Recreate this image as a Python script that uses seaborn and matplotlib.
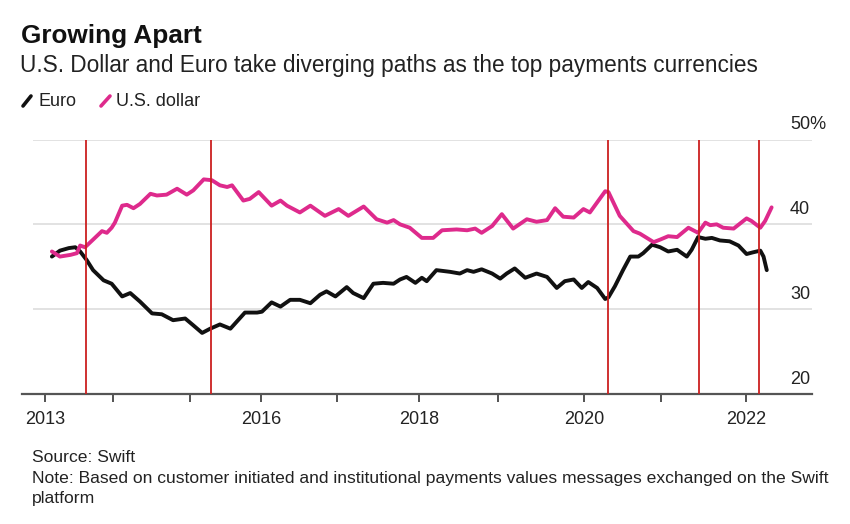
import pandas as pd
import seaborn as sns
import matplotlib.pyplot as plt
from matplotlib.lines import Line2D

# Share of payments by value (%)
euro_years = [2013.41, 2013.51, 2013.62, 2013.70, 2013.76, 2013.84, 2013.92, 2014.05, 2014.15,
              2014.28, 2014.38, 2014.50, 2014.65, 2014.77, 2014.91, 2015.06, 2015.16, 2015.27,
              2015.37, 2015.49, 2015.62, 2015.80, 2015.95, 2016.01, 2016.13, 2016.24, 2016.36,
              2016.48, 2016.61, 2016.73, 2016.81, 2016.92, 2017.06, 2017.14, 2017.27, 2017.39,
              2017.51, 2017.64, 2017.72, 2017.80, 2017.91, 2017.99, 2018.05, 2018.17, 2018.34,
              2018.46, 2018.55, 2018.63, 2018.73, 2018.86, 2018.96, 2019.04, 2019.14, 2019.27,
              2019.41, 2019.54, 2019.66, 2019.76, 2019.87, 2019.97, 2020.05, 2020.16, 2020.26,
              2020.30, 2020.38, 2020.48, 2020.57, 2020.67, 2020.73, 2020.84, 2020.94, 2021.04,
              2021.15, 2021.27, 2021.33, 2021.41, 2021.50, 2021.58, 2021.68, 2021.80, 2021.91,
              2022.01, 2022.09, 2022.18, 2022.22, 2022.26]
euro_share = [36.2, 36.9, 37.2, 37.3, 36.8, 35.8, 34.6, 33.4, 33.0,
              31.5, 31.9, 30.9, 29.5, 29.4, 28.7, 28.9, 28.1, 27.2,
              27.7, 28.2, 27.7, 29.6, 29.6, 29.7, 30.8, 30.3, 31.1,
              31.1, 30.7, 31.7, 32.1, 31.5, 32.6, 31.9, 31.3, 33.0,
              33.1, 33.0, 33.5, 33.8, 33.1, 33.7, 33.3, 34.6, 34.4,
              34.2, 34.6, 34.4, 34.7, 34.2, 33.6, 34.2, 34.8, 33.7,
              34.2, 33.8, 32.5, 33.3, 33.5, 32.5, 33.2, 32.5, 31.2,
              31.4, 32.7, 34.6, 36.2, 36.2, 36.6, 37.6, 37.3, 36.8,
              37.0, 36.2, 37.0, 38.5, 38.3, 38.4, 38.1, 38.0, 37.5,
              36.5, 36.7, 36.9, 36.2, 34.6]

usd_years = [2013.41, 2013.51, 2013.64, 2013.72, 2013.76, 2013.82, 2013.92, 2014.03, 2014.09,
             2014.15, 2014.19, 2014.28, 2014.34, 2014.42, 2014.50, 2014.63, 2014.71, 2014.83,
             2014.96, 2015.08, 2015.16, 2015.29, 2015.39, 2015.49, 2015.58, 2015.64, 2015.78,
             2015.86, 2015.97, 2016.13, 2016.24, 2016.32, 2016.48, 2016.61, 2016.79, 2016.96,
             2017.08, 2017.27, 2017.43, 2017.56, 2017.64, 2017.72, 2017.84, 2017.99, 2018.13,
             2018.24, 2018.42, 2018.55, 2018.65, 2018.73, 2018.86, 2018.98, 2019.12, 2019.29,
             2019.41, 2019.54, 2019.64, 2019.74, 2019.87, 2019.99, 2020.07, 2020.26, 2020.30,
             2020.36, 2020.44, 2020.61, 2020.69, 2020.86, 2020.94, 2021.04, 2021.15, 2021.29,
             2021.41, 2021.50, 2021.56, 2021.64, 2021.72, 2021.85, 2022.01, 2022.07, 2022.18,
             2022.24, 2022.32]
usd_share = [36.8, 36.2, 36.4, 36.6, 37.5, 37.3, 38.2, 39.2, 39.0,
             39.6, 40.2, 42.2, 42.3, 41.9, 42.4, 43.6, 43.4, 43.5,
             44.2, 43.5, 44.0, 45.3, 45.2, 44.6, 44.4, 44.6, 42.8,
             43.0, 43.8, 42.2, 42.8, 42.2, 41.4, 42.2, 41.0, 41.8,
             41.0, 42.1, 40.6, 40.2, 40.5, 40.0, 39.6, 38.4, 38.4,
             39.3, 39.4, 39.3, 39.5, 39.0, 39.8, 41.2, 39.5, 40.6,
             40.3, 40.5, 41.9, 40.9, 40.8, 41.8, 41.4, 43.9, 43.8,
             42.6, 41.0, 39.2, 38.9, 37.9, 38.2, 38.6, 38.5, 39.6,
             39.0, 40.2, 39.9, 40.0, 39.6, 39.5, 40.7, 40.4, 39.6,
             40.4, 42.0]

event_years = [2013.83, 2015.38, 2020.29, 2021.42, 2022.16]

tick_years = [2013.33, 2014.17, 2015.12, 2016.0, 2016.94, 2017.96, 2018.93, 2020.0, 2020.95, 2022.0]
tick_labels = ["2013", "", "", "2016", "", "2018", "", "2020", "", "2022"]
grid_values = [30, 40, 50]
y_values = [20, 30, 40, 50]
y_labels = ["20", "30", "40", "50%"]

df = pd.concat([
    pd.DataFrame({"year": euro_years, "share": euro_share, "currency": "Euro"}),
    pd.DataFrame({"year": usd_years, "share": usd_share, "currency": "U.S. dollar"}),
])

sns.set_style("white")
plt.rcParams["font.family"] = ["Liberation Sans", "DejaVu Sans"]

W, H = 850, 524
fig = plt.figure(figsize=(8.5, 5.24), dpi=100)
ax = fig.add_axes([22 / W, 1 - 394 / H, 790 / W, (394 - 139.5) / H])

ax.hlines(grid_values, 2013.17, 2022.82, color="#dddddd", lw=1.2, zorder=0)

sns.lineplot(data=df, x="year", y="share", hue="currency",
             hue_order=["Euro", "U.S. dollar"],
             palette={"Euro": "#111111", "U.S. dollar": "#de2a8c"},
             estimator=None, sort=False, lw=2.8, legend=False, ax=ax)

ax.vlines(event_years, 20, 50, color="#cc2020", lw=1.3, zorder=5)

ax.set_xlim(2013.04, 2022.82)
ax.set_ylim(20, 50)
ax.set_xlabel("")
ax.set_ylabel("")
ax.set_yticks([])
ax.set_xticks(tick_years, tick_labels)
ax.tick_params(axis="x", length=6, width=1.3, color="#444444", pad=6,
               labelsize=13, labelcolor="#222222", bottom=True)
for s in ["top", "left", "right"]:
    ax.spines[s].set_visible(False)
ax.spines["bottom"].set_color("#555555")
ax.spines["bottom"].set_linewidth(1.6)

for v, lab in zip(y_values, y_labels):
    ax.annotate(lab, xy=(0.972, v), xycoords=("axes fraction", "data"),
                xytext=(0, 7.5), textcoords="offset points", ha="left", va="baseline",
                fontsize=13, color="#222222", annotation_clip=False)

# header
fig.text(21 / W, 1 - 43 / H, "Growing Apart", fontsize=18.8, fontweight="bold", color="#111111")
fig.text(20 / W, 1 - 72 / H,
         "U.S. Dollar and Euro take diverging paths as the top payments currencies",
         fontsize=16.3, color="#222222")

# legend
fig.add_artist(Line2D([23 / W, 31 / W], [1 - 106 / H, 1 - 96 / H], color="#111111",
                      lw=2.6, transform=fig.transFigure))
fig.text(38 / W, 1 - 106 / H, "Euro", fontsize=13, color="#222222")
fig.add_artist(Line2D([101 / W, 110 / W], [1 - 106 / H, 1 - 96 / H], color="#de2a8c",
                      lw=2.6, transform=fig.transFigure))
fig.text(116 / W, 1 - 106 / H, "U.S. dollar", fontsize=13, color="#222222")

# footer
fig.text(32 / W, 1 - 462 / H, "Source: Swift", fontsize=12.6, color="#222222")
fig.text(32 / W, 1 - 483 / H,
         "Note: Based on customer initiated and institutional payments values messages exchanged on the Swift",
         fontsize=12.6, color="#222222")
fig.text(32 / W, 1 - 503 / H, "platform", fontsize=12.6, color="#222222")

fig.savefig("out.png", dpi=100)
